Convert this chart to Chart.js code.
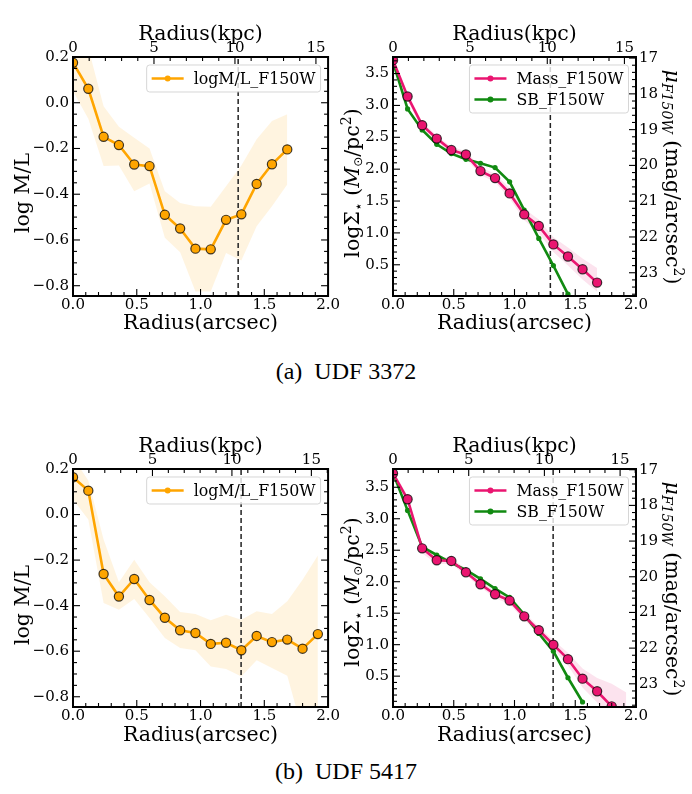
<!DOCTYPE html>
<html>
<head>
<meta charset="utf-8">
<script src="https://cdn.jsdelivr.net/npm/chart.js@4.4.1/dist/chart.umd.min.js"></script>
<style>
  body { margin: 0; background: #fff; width: 692px; height: 794px; position: relative; overflow: hidden; }
  .panel { position: absolute; }
  .caption { position: absolute; left: 0; width: 692px; text-align: center;
             font-family: 'Liberation Serif', 'Times New Roman', serif; font-size: 24px; color: #000; }
</style>
</head>
<body>
<div class="panel" style="left:0;top:0"><canvas id="ml3372" width="340" height="340"></canvas></div>
<div class="panel" style="left:340px;top:0"><canvas id="mass3372" width="352" height="340"></canvas></div>
<div class="caption" style="top:358px">(a)&nbsp; UDF 3372</div>
<div class="panel" style="left:0;top:412px"><canvas id="ml5417" width="340" height="340"></canvas></div>
<div class="panel" style="left:340px;top:412px"><canvas id="mass5417" width="352" height="340"></canvas></div>
<div class="caption" style="top:758px">(b)&nbsp; UDF 5417</div>

<script>
// ---- data: UDF 3372 ----
const r3372 = [0.00, 0.12, 0.24, 0.36, 0.48, 0.60, 0.72, 0.84, 0.96, 1.08, 1.20, 1.32, 1.44, 1.56, 1.68];
const ml3372 = [0.175, 0.061, -0.149, -0.185, -0.270, -0.277, -0.490, -0.550, -0.638, -0.641, -0.512, -0.488, -0.355, -0.269, -0.204];
const ml3372Hi = [0.30, 0.24, -0.015, -0.105, -0.153, -0.200, -0.387, -0.438, -0.453, -0.455, -0.365, -0.274, -0.160, -0.080, -0.050];
const ml3372Lo = [0.050, -0.070, -0.277, -0.274, -0.387, -0.353, -0.590, -0.654, -0.825, -0.825, -0.657, -0.690, -0.540, -0.453, -0.358];
const mass3372 = [3.71, 3.14, 2.69, 2.48, 2.30, 2.23, 1.97, 1.86, 1.62, 1.29, 1.11, 0.82, 0.63, 0.43, 0.22];
const mass3372Hi = [3.76, 3.20, 2.74, 2.53, 2.35, 2.28, 2.03, 1.93, 1.70, 1.38, 1.21, 0.93, 0.77, 0.60, 0.45];
const mass3372Lo = [3.66, 3.08, 2.64, 2.43, 2.25, 2.17, 1.91, 1.80, 1.54, 1.20, 1.00, 0.70, 0.49, 0.27, 0.08];
const sb3372 = [17.11, 18.42, 19.01, 19.41, 19.67, 19.83, 19.94, 20.06, 20.46, 21.25, 22.04, 22.80, 23.60];
const rEff3372 = 1.295;
const kpcMax3372 = 15.75;

// ---- data: UDF 5417 ----
const r5417 = [0.00, 0.12, 0.24, 0.36, 0.48, 0.60, 0.72, 0.84, 0.96, 1.08, 1.20, 1.32, 1.44, 1.56, 1.68, 1.80, 1.92];
const ml5417 = [0.164, 0.105, -0.261, -0.360, -0.283, -0.375, -0.453, -0.508, -0.520, -0.568, -0.563, -0.596, -0.533, -0.560, -0.549, -0.589, -0.525];
const ml5417Hi = [0.25, 0.15, -0.110, -0.297, -0.198, -0.297, -0.359, -0.428, -0.437, -0.464, -0.440, -0.462, -0.425, -0.437, -0.381, -0.286, -0.180];
const ml5417Lo = [0.066, -0.022, -0.388, -0.418, -0.371, -0.454, -0.542, -0.586, -0.596, -0.667, -0.678, -0.711, -0.640, -0.674, -0.708, -0.950, -0.950];
const mass5417 = [3.72, 3.31, 2.53, 2.34, 2.33, 2.15, 1.96, 1.80, 1.70, 1.45, 1.23, 1.00, 0.77, 0.46, 0.26, 0.02];
const mass5417Hi = [3.77, 3.36, 2.60, 2.40, 2.38, 2.20, 2.01, 1.86, 1.76, 1.51, 1.29, 1.07, 0.87, 0.62, 0.47, 0.38, 0.24];
const mass5417Lo = [3.68, 3.26, 2.45, 2.28, 2.28, 2.10, 1.91, 1.74, 1.64, 1.39, 1.17, 0.93, 0.67, 0.32, 0.08, -0.25, -0.30];
const sb5417 = [17.09, 18.14, 19.16, 19.39, 19.61, 19.81, 20.06, 20.33, 20.58, 21.06, 21.59, 22.09, 22.83, 23.51];
const rEff5417 = 1.318;
const kpcMax5417 = 16.05;

// ---- axis ranges ----
const mlRange = [-0.845, 0.2];
const mass3372Range = [0.01, 3.76];
const mass5417Range = [0.01, 3.79];
const mu3372Range = [16.97, 23.65];
const mu5417Range = [16.98, 23.65];

const SERIF = "'DejaVu Serif', serif";
const ORANGE = '#ffa500';
const PINK = '#ea1570';
const GREEN = '#118a11';
const TICK_SIZE = 15;
const TITLE_SIZE = 20.5;

function pts(xs, ys) {
    return ys.map((y, i) => ({ x: xs[i], y: y }));
}

function fmt1(v) {
    if (Math.abs(v) < 1e-9) return '0.0';
    return (v < 0 ? '\u2212' : '') + Math.abs(v).toFixed(1);
}

/**
 * Frame with inward major/minor ticks, matplotlib style
 */
const mplFrame = {
    id: 'mplFrame',
    afterDraw(chart, args, o) {
        const ctx = chart.ctx;
        const a = chart.chartArea;
        ctx.save();
        ctx.strokeStyle = '#000';
        ctx.lineWidth = 1.1;
        o.ticks.forEach(t => {
            const s = chart.scales[t.scale];
            const k0 = Math.ceil(s.min / t.minor - 1e-6);
            for (let k = k0; k * t.minor <= s.max + 1e-9; k++) {
                const v = k * t.minor;
                const q = v / t.major;
                const len = Math.abs(q - Math.round(q)) < 1e-6 ? 7 : 4;
                const p = s.getPixelForValue(v);
                ctx.beginPath();
                if (t.side === 'bottom') { ctx.moveTo(p, a.bottom); ctx.lineTo(p, a.bottom - len); }
                if (t.side === 'top') { ctx.moveTo(p, a.top); ctx.lineTo(p, a.top + len); }
                if (t.side === 'left') { ctx.moveTo(a.left, p); ctx.lineTo(a.left + len, p); }
                if (t.side === 'right') { ctx.moveTo(a.right, p); ctx.lineTo(a.right - len, p); }
                ctx.stroke();
            }
        });
        ctx.lineWidth = 2;
        ctx.strokeRect(a.left, a.top, a.right - a.left, a.bottom - a.top);
        ctx.restore();
    }
};

/**
 * Legend box inside the axes, upper right
 */
const mplLegend = {
    id: 'mplLegend',
    afterDraw(chart, args, o) {
        const ctx = chart.ctx;
        const a = chart.chartArea;
        const font = '15.8px ' + SERIF;
        ctx.save();
        ctx.font = font;
        const tw = Math.max(...o.items.map(it => ctx.measureText(it.text).width));
        const w = 47 + tw + 5;
        const h = 27 + 21 * (o.items.length - 1);
        const x0 = a.right - 7.5 - w;
        const y0 = a.top + 8;
        ctx.beginPath();
        ctx.roundRect(x0, y0, w, h, 3);
        ctx.fillStyle = 'rgba(255,255,255,0.8)';
        ctx.fill();
        ctx.strokeStyle = 'rgba(204,204,204,0.8)';
        ctx.lineWidth = 1;
        ctx.stroke();
        o.items.forEach((it, i) => {
            const cy = y0 + 13.5 + 21 * i;
            ctx.strokeStyle = it.color;
            ctx.lineWidth = 2.6;
            ctx.beginPath();
            ctx.moveTo(x0 + 5, cy);
            ctx.lineTo(x0 + 37, cy);
            ctx.stroke();
            ctx.fillStyle = it.color;
            ctx.beginPath();
            ctx.arc(x0 + 21, cy, 3, 0, Math.PI * 2);
            ctx.fill();
            ctx.fillStyle = '#000';
            ctx.textBaseline = 'middle';
            ctx.fillText(it.text, x0 + 47, cy + 1);
        });
        ctx.restore();
    }
};

/**
 * Vertical axis titles with sub/superscripts
 */
const richTitles = {
    id: 'richTitles',
    afterDraw(chart, args, o) {
        const ctx = chart.ctx;
        o.titles.forEach(tt => {
            ctx.save();
            ctx.translate(tt.x, tt.y);
            ctx.rotate(tt.rot);
            let total = 0;
            tt.runs.forEach(r => { ctx.font = r.font; r.w = ctx.measureText(r.t).width; total += r.w; });
            let x = -total / 2;
            ctx.fillStyle = '#000';
            ctx.textBaseline = 'middle';
            tt.runs.forEach(r => { ctx.font = r.font; ctx.fillText(r.t, x, r.dy || 0); x += r.w; });
            ctx.restore();
        });
    }
};

const noGrid = { display: false, drawTicks: false };

function xScales(kpcMax, bottomH) {
    return {
        x: {
            type: 'linear', position: 'bottom', min: 0, max: 2,
            afterFit: s => { s.height = bottomH; },
            grid: noGrid, border: { display: false },
            ticks: { stepSize: 0.5, padding: 0, color: '#000', font: { family: SERIF, size: TICK_SIZE },
                     callback: fmt1, maxRotation: 0, autoSkip: false, includeBounds: false },
            title: { display: true, text: 'Radius(arcsec)', color: '#000',
                     font: { family: SERIF, size: TITLE_SIZE }, padding: { top: 0, bottom: 4 } }
        },
        x2: {
            type: 'linear', position: 'top', min: 0, max: kpcMax,
            afterFit: s => { s.height = 57; },
            grid: noGrid, border: { display: false },
            ticks: { stepSize: 5, padding: 0, color: '#000', font: { family: SERIF, size: TICK_SIZE },
                     callback: v => String(v), maxRotation: 0, autoSkip: false, includeBounds: false },
            title: { display: true, text: 'Radius(kpc)', color: '#000',
                     font: { family: SERIF, size: TITLE_SIZE }, padding: { top: 22, bottom: 0 } }
        }
    };
}

function mlChart(id, r, ml, hi, lo, rEff, kpcMax, bottomH) {
    const scales = xScales(kpcMax, bottomH);
    scales.y = {
        type: 'linear', position: 'left', min: mlRange[0], max: mlRange[1],
        afterFit: s => { s.width = 73; },
        grid: noGrid, border: { display: false },
        ticks: { stepSize: 0.2, padding: 4, color: '#000', font: { family: SERIF, size: TICK_SIZE },
                 callback: fmt1, autoSkip: false, includeBounds: false }
    };
    new Chart(document.getElementById(id), {
        type: 'line',
        data: {
            datasets: [
                { data: pts(r, ml), showLine: false, pointRadius: 4.6, pointBackgroundColor: ORANGE,
                  pointBorderColor: 'rgba(0,0,0,0.75)', pointBorderWidth: 1.2 },
                { data: pts(r, ml), borderColor: ORANGE, borderWidth: 2.6, pointRadius: 2.5,
                  pointBackgroundColor: ORANGE, pointBorderWidth: 0 },
                { data: [{ x: rEff, y: mlRange[0] }, { x: rEff, y: mlRange[1] }], borderColor: '#222',
                  borderWidth: 1.5, borderDash: [5, 3], pointRadius: 0 },
                { data: pts(r, hi), borderWidth: 0, pointRadius: 0, fill: '+1',
                  backgroundColor: 'rgba(255,165,0,0.12)' },
                { data: pts(r, lo), borderWidth: 0, pointRadius: 0 }
            ]
        },
        options: {
            responsive: false, animation: false, events: [],
            layout: { padding: 0 },
            scales: scales,
            plugins: {
                legend: { display: false }, tooltip: { enabled: false },
                mplFrame: { ticks: [
                    { scale: 'x', side: 'bottom', major: 0.5, minor: 0.1 },
                    { scale: 'x2', side: 'top', major: 5, minor: 1 },
                    { scale: 'y', side: 'left', major: 0.2, minor: 0.05 },
                    { scale: 'y', side: 'right', major: 0.2, minor: 0.05 }
                ] },
                mplLegend: { items: [{ text: 'logM/L_F150W', color: ORANGE }] },
                richTitles: { titles: [
                    { x: 24, y: 193, rot: -Math.PI / 2, runs: [{ t: 'log M/L', font: TITLE_SIZE + 'px ' + SERIF }] }
                ] }
            }
        },
        plugins: [mplFrame, mplLegend, richTitles]
    });
}

function massChart(id, r, mass, hi, lo, sb, rEff, kpcMax, massRange, muRange, bottomH, titleY) {
    const scales = xScales(kpcMax, bottomH);
    scales.y = {
        type: 'linear', position: 'left', min: massRange[0], max: massRange[1],
        afterFit: s => { s.width = 53; },
        grid: noGrid, border: { display: false },
        ticks: { stepSize: 0.5, padding: 4, color: '#000', font: { family: SERIF, size: TICK_SIZE },
                 callback: fmt1, autoSkip: false, includeBounds: false }
    };
    scales.y2 = {
        type: 'linear', position: 'right', reverse: true, min: muRange[0], max: muRange[1],
        afterFit: s => { s.width = 56; },
        grid: noGrid, border: { display: false },
        ticks: { stepSize: 1, padding: 3, color: '#000', font: { family: SERIF, size: TICK_SIZE },
                 callback: v => String(v), autoSkip: false, includeBounds: false }
    };
    const big = TITLE_SIZE + 'px ' + SERIF;
    const small = '14px ' + SERIF;
    new Chart(document.getElementById(id), {
        type: 'line',
        data: {
            datasets: [
                { data: pts(r, mass), showLine: false, pointRadius: 4.6, pointBackgroundColor: PINK,
                  pointBorderColor: 'rgba(0,0,0,0.75)', pointBorderWidth: 1.2 },
                { data: pts(r, mass), borderColor: PINK, borderWidth: 2.6, pointRadius: 2.5,
                  pointBackgroundColor: PINK, pointBorderWidth: 0 },
                { data: pts(r, sb), yAxisID: 'y2', borderColor: GREEN, borderWidth: 2.6, pointRadius: 2.6,
                  pointBackgroundColor: GREEN, pointBorderWidth: 0 },
                { data: [{ x: rEff, y: massRange[0] }, { x: rEff, y: massRange[1] }], borderColor: '#222',
                  borderWidth: 1.5, borderDash: [5, 3], pointRadius: 0 },
                { data: pts(r, hi), borderWidth: 0, pointRadius: 0, fill: '+1',
                  backgroundColor: 'rgba(234,21,112,0.12)' },
                { data: pts(r, lo), borderWidth: 0, pointRadius: 0 }
            ]
        },
        options: {
            responsive: false, animation: false, events: [],
            layout: { padding: 0 },
            scales: scales,
            plugins: {
                legend: { display: false }, tooltip: { enabled: false },
                mplFrame: { ticks: [
                    { scale: 'x', side: 'bottom', major: 0.5, minor: 0.1 },
                    { scale: 'x2', side: 'top', major: 5, minor: 1 },
                    { scale: 'y', side: 'left', major: 0.5, minor: 0.1 },
                    { scale: 'y2', side: 'right', major: 1, minor: 0.2 }
                ] },
                mplLegend: { items: [{ text: 'Mass_F150W', color: PINK }, { text: 'SB_F150W', color: GREEN }] },
                richTitles: { titles: [
                    { x: 14, y: titleY, rot: -Math.PI / 2, runs: [
                        { t: 'log\u03a3', font: big },
                        { t: '\u22c6', font: "14px 'DejaVu Sans', sans-serif", dy: 5 },
                        { t: ' (', font: big },
                        { t: 'M', font: 'italic ' + big },
                        { t: '\u2299', font: "12px 'DejaVu Sans', sans-serif", dy: 5 },
                        { t: '/pc', font: big },
                        { t: '2', font: small, dy: -7 },
                        { t: ')', font: big }
                    ] },
                    { x: 331, y: 177, rot: Math.PI / 2, runs: [
                        { t: '\u03bc', font: 'italic ' + big },
                        { t: 'F150W', font: 'italic ' + small, dy: 5 },
                        { t: ' (mag/arcsec', font: big },
                        { t: '2', font: small, dy: -7 },
                        { t: ')', font: big }
                    ] }
                ] }
            }
        },
        plugins: [mplFrame, mplLegend, richTitles]
    });
}

mlChart('ml3372', r3372, ml3372, ml3372Hi, ml3372Lo, rEff3372, kpcMax3372, 44);
massChart('mass3372', r3372, mass3372, mass3372Hi, mass3372Lo, sb3372, rEff3372, kpcMax3372,
          mass3372Range, mu3372Range, 44, 183);
mlChart('ml5417', r5417, ml5417, ml5417Hi, ml5417Lo, rEff5417, kpcMax5417, 45);
massChart('mass5417', r5417, mass5417, mass5417Hi, mass5417Lo, sb5417, rEff5417, kpcMax5417,
          mass5417Range, mu5417Range, 45, 180);
</script>
</body>
</html>
